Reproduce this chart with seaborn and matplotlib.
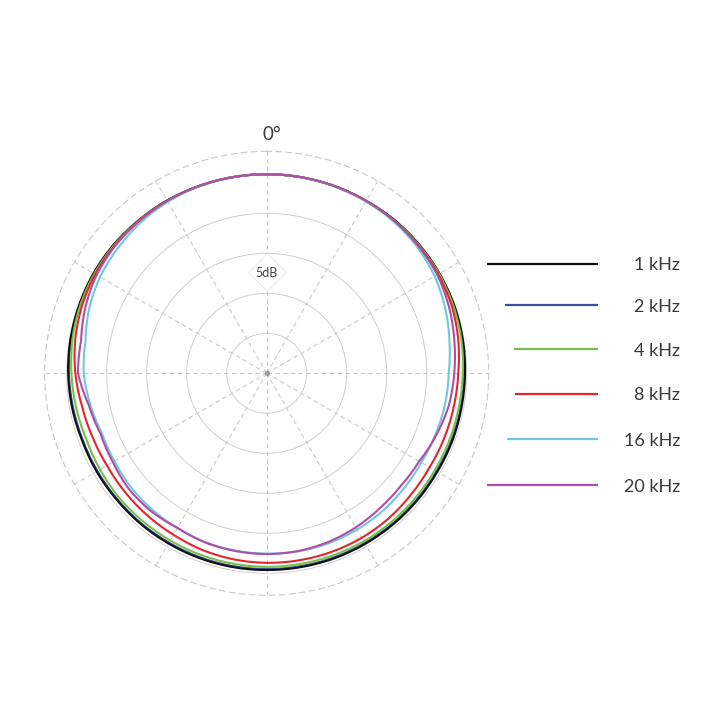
import numpy as np
import pandas as pd
import matplotlib
matplotlib.use("Agg")
import matplotlib.pyplot as plt
import seaborn as sns

# ---------------- data (dB relative to 0 dB on-axis, every 10 degrees clockwise from 0 deg) -------------
angles_deg = list(range(0, 360, 10))

freq_labels = ["1 kHz", "2 kHz", "4 kHz", "8 kHz", "16 kHz", "20 kHz"]

db_1k = [-0.12, -0.12, -0.12, -0.12, -0.06, -0.06, -0.06, -0.06, -0.12, -0.21, -0.28, -0.31,
         -0.38, -0.38, -0.38, -0.38, -0.38, -0.40, -0.41, -0.41, -0.42, -0.44, -0.45, -0.48,
         -0.45, -0.45, -0.30, -0.18, -0.10, -0.05, 0.00, 0.00, -0.06, -0.06, -0.12, -0.12]
db_2k = [-0.12, -0.12, -0.12, -0.12, -0.09, -0.09, -0.10, -0.12, -0.19, -0.31, -0.38, -0.44,
         -0.50, -0.50, -0.50, -0.50, -0.50, -0.52, -0.54, -0.54, -0.54, -0.56, -0.55, -0.58,
         -0.56, -0.55, -0.42, -0.28, -0.18, -0.10, -0.06, -0.06, -0.09, -0.10, -0.12, -0.12]
db_4k = [-0.12, -0.12, -0.12, -0.12, -0.12, -0.12, -0.12, -0.19, -0.31, -0.50, -0.62, -0.69,
         -0.75, -0.75, -0.75, -0.75, -0.78, -0.80, -0.81, -0.84, -0.85, -0.88, -0.88, -0.88,
         -0.95, -1.00, -0.80, -0.60, -0.35, -0.19, -0.12, -0.09, -0.09, -0.10, -0.12, -0.12]
db_8k = [-0.12, -0.12, -0.12, -0.15, -0.16, -0.19, -0.25, -0.38, -0.69, -1.06, -1.25, -1.38,
         -1.50, -1.44, -1.31, -1.25, -1.25, -1.28, -1.31, -1.38, -1.50, -1.70, -1.80, -1.90,
         -1.95, -1.82, -1.55, -1.08, -0.70, -0.42, -0.25, -0.19, -0.12, -0.12, -0.12, -0.12]
db_16k = [-0.12, -0.12, -0.16, -0.21, -0.28, -0.44, -0.75, -1.25, -1.81, -2.25, -2.38, -2.56,
          -2.69, -2.62, -2.50, -2.44, -2.38, -2.40, -2.46, -2.50, -2.55, -2.65, -2.75, -2.85,
          -3.03, -3.08, -2.60, -2.12, -2.00, -1.38, -0.94, -0.69, -0.44, -0.25, -0.16, -0.12]
db_20k = [-0.12, -0.12, -0.12, -0.12, -0.16, -0.25, -0.38, -0.75, -1.19, -1.56, -1.88, -2.44,
          -3.00, -3.12, -3.00, -2.75, -2.56, -2.44, -2.41, -2.44, -2.50, -2.70, -2.50, -2.50,
          -2.80, -2.90, -2.40, -1.41, -1.44, -0.88, -0.44, -0.25, -0.19, -0.12, -0.12, -0.12]

series = [db_1k, db_2k, db_4k, db_8k, db_16k, db_20k]
colors = ["#111111", "#3d4f9e", "#78bf4a", "#e3262b", "#72c7da", "#ad4fa6"]
draw_order = ["2 kHz", "1 kHz", "4 kHz", "8 kHz", "16 kHz", "20 kHz"]

ring_db = [-20, -15, -10, -5, 0]        # solid rings
ring_label = "5dB"
floor_db = -25                          # centre of the plot
outer_db = 2.75                         # dashed outer boundary

# ---------------- build long-form table ----------------
rows = []
for lab, vals in zip(freq_labels, series):
    closed_a = angles_deg + [360]
    closed_v = vals + [vals[0]]
    for a, v in zip(closed_a, closed_v):
        rows.append({"theta": np.deg2rad(a), "r": v - floor_db, "freq": lab})
df = pd.DataFrame(rows)
palette = dict(zip(freq_labels, colors))

# ---------------- figure ----------------
sns.set_style("white")
plt.rcParams["font.family"] = ["Lato", "DejaVu Sans"]

fig = plt.figure(figsize=(7.2, 7.2), dpi=100)
fig.patch.set_facecolor("white")

cx, cy, R = 266.7, 373.3, 222.0
ax = fig.add_axes([(cx - R) / 720, (720 - cy - R) / 720, 2 * R / 720, 2 * R / 720],
                  projection="polar")
ax.set_theta_zero_location("N")
ax.set_theta_direction(-1)
ax.set_rlim(0, outer_db - floor_db)

grid_col = "#c9c9c9"
ax.set_yticks([d - floor_db for d in ring_db])
ax.set_yticklabels([])
ax.set_xticks(np.deg2rad(np.arange(0, 360, 30)))
ax.set_xticklabels([])
ax.yaxis.grid(True, color="#cfcfcf", linestyle="-", linewidth=0.7)
ax.xaxis.grid(True, color=grid_col, linestyle=(0, (4, 3)), linewidth=0.8)
ax.spines["polar"].set_linestyle((0, (5, 4)))
ax.spines["polar"].set_edgecolor(grid_col)
ax.spines["polar"].set_linewidth(0.8)
ax.tick_params(length=0, pad=0)

n_before = len(ax.lines)
sns.lineplot(data=df, x="theta", y="r", hue="freq", hue_order=draw_order,
             palette=palette, sort=False, estimator=None, legend=False,
             linewidth=1.5, ax=ax)
# draw the segments as polar arcs rather than straight chords
for ln in ax.lines[n_before:]:
    ln.get_path()._interpolation_steps = 40
    ln.set_solid_joinstyle("round")
ax.set_xlabel("")
ax.set_ylabel("")

# centre dot
ax.plot([0], [0], marker="o", ms=2.5, color="#999999", zorder=5)

# 5dB label with diamond
ax.plot([0], [12.7], marker="D", ms=19, mfc="white", mec="#ececec", mew=0.8, zorder=6,
        clip_on=False)
ax.text(0, 12.5, ring_label, ha="center", va="center", fontsize=9, color="#444444",
        zorder=7)

# 0 degree label
fig.text(262.5 / 720, 1 - 140 / 720, "0°", ha="left", va="baseline", fontsize=13.5,
         color="#3a3a3a")

# ---------------- custom legend ----------------
leg_x0, leg_x1, leg_y0, leg_y1 = 470, 700, 230, 510
lax = fig.add_axes([leg_x0 / 720, 1 - leg_y1 / 720, (leg_x1 - leg_x0) / 720,
                    (leg_y1 - leg_y0) / 720])
lax.set_xlim(leg_x0, leg_x1)
lax.set_ylim(leg_y1, leg_y0)
lax.axis("off")
legend_line_start = [487, 505, 514, 515, 507, 487]
legend_line_end = 598
legend_text_right = 680
legend_row_y = [264, 305, 349, 394, 439, 485]
for lab, col, xs, y in zip(freq_labels, colors, legend_line_start, legend_row_y):
    lax.plot([xs, legend_line_end], [y, y], color=col, lw=1.6, solid_capstyle="butt")
    lax.text(legend_text_right, y + 6.5, lab, ha="right", va="baseline", fontsize=13,
             color="#3a3a3a")

fig.savefig("out.png", dpi=100, facecolor="white")
